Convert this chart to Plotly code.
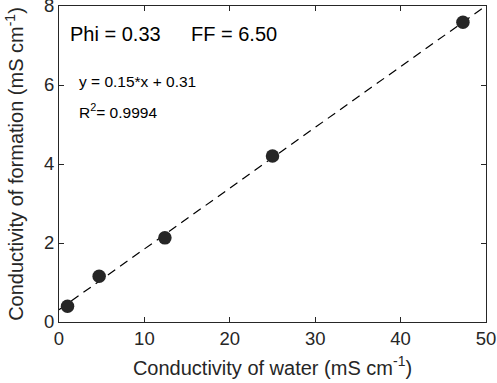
import numpy as np
import plotly.graph_objects as go

water = [1.0, 4.7, 12.4, 25.0, 47.3]
formation = [0.40, 1.16, 2.13, 4.20, 7.59]
fit_x = [0, 50]
slope = 0.1539
intercept = 0.31
x_ticks = [0, 10, 20, 30, 40, 50]
y_ticks = [0, 2, 4, 6, 8]

fit_y = [slope * v + intercept for v in fit_x]

font = "Liberation Sans, Arial, Helvetica, sans-serif"
fig = go.Figure()
fig.add_trace(go.Scatter(x=fit_x, y=fit_y, mode="lines",
                         line=dict(color="black", width=1.2, dash="9px,6px"),
                         showlegend=False, hoverinfo="skip"))
fig.add_trace(go.Scatter(x=water, y=formation, mode="markers",
                         marker=dict(color="#262626", size=13.5),
                         showlegend=False))

ann = [
    dict(x=1.2, y=7.3, text="Phi = 0.33", size=20),
    dict(x=15.3, y=7.3, text="FF = 6.50", size=20),
    dict(x=2.2, y=6.08, text="y = 0.15*x + 0.31", size=15.5),
    dict(x=2.2, y=5.34, text="R<sup>2</sup>= 0.9994", size=15.5),
]
for a in ann:
    fig.add_annotation(x=a["x"], y=a["y"], text=a["text"], showarrow=False,
                       xanchor="left", yanchor="middle", borderpad=0,
                       font=dict(family=font, size=a["size"], color="black"))

axis_common = dict(showline=True, linecolor="#262626", linewidth=1.2, mirror="ticks",
                   ticks="inside", ticklen=5, tickcolor="#262626",
                   showgrid=False, zeroline=False, automargin=False,
                   ticklabeloverflow="allow",
                   tickfont=dict(family=font, size=18.5, color="#262626"))
fig.update_xaxes(range=[0, 50], tickvals=x_ticks,
                 title=dict(text="Conductivity of water (mS cm<sup>-1</sup>)",
                            font=dict(family=font, size=20, color="#262626"), standoff=12),
                 **axis_common)
fig.update_yaxes(range=[0, 8], tickvals=y_ticks,
                 title=dict(text="Conductivity of formation (mS cm<sup>-1</sup>)",
                            font=dict(family=font, size=20, color="#262626"), standoff=14),
                 **axis_common)
fig.update_layout(width=497, height=383, plot_bgcolor="white", paper_bgcolor="white",
                  margin=dict(l=59, r=11, t=6, b=61))
fig.write_html("out.html", config={"displayModeBar": False},
               post_script="document.body.style.margin='0';document.body.style.overflow='hidden';")
